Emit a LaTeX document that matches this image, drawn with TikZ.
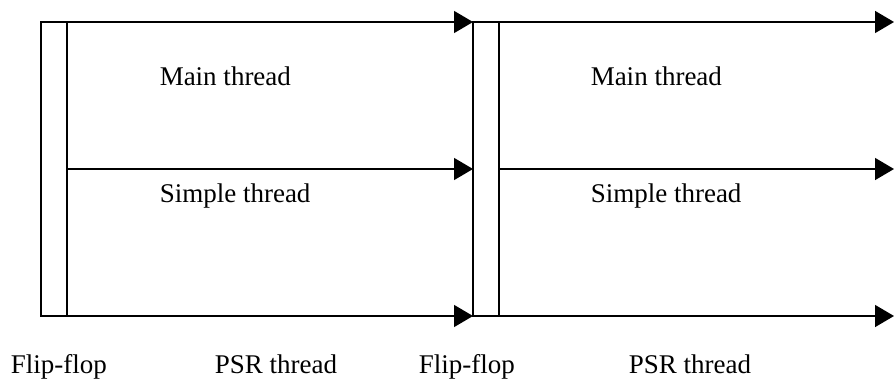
\documentclass[tikz,border=0pt]{standalone}
\usepackage{fontspec}
\setmainfont{Liberation Serif}
\usetikzlibrary{arrows.meta}
\begin{document}
\begin{tikzpicture}[x=1pt,y=1pt, line width=1.5pt,
  flow/.style={-{Triangle[length=19pt,width=22pt]}},
  bar/.style={draw, outer sep=0pt, inner sep=0pt, minimum width=26pt, minimum height=294pt, anchor=south west},
  lbl/.style={anchor=base west, inner sep=0pt, font=\fontsize{27}{32}\selectfont}]
\useasboundingbox (0,0) rectangle (894,381);
\node[bar] (ff1) at (41,65) {};
\node[bar] (ff2) at (473,65) {};
\coordinate (rx) at (894,0);
\draw[flow] (ff1.north west) -- (ff2.north west);
\draw[flow] (ff1.east) -- (ff2.west);
\draw[flow] (ff1.south east) -- (ff2.south west);
\draw[flow] (ff2.north west) -- (ff2.north west -| rx);
\draw[flow] (ff2.east) -- (ff2.east -| rx);
\draw[flow] (ff2.south east) -- (ff2.south east -| rx);
\node[lbl] (m1) at (159,295) {Main thread};
\node[lbl] (s1) at (159,179) {Simple thread};
\node[lbl] (m2) at (590,295) {Main thread};
\node[lbl] (s2) at (590,179) {Simple thread};
\node[lbl] (f1) at (10,8) {Flip-flop};
\node[lbl] (p1) at (214,8) {PSR thread};
\node[lbl] (f2) at (418,8) {Flip-flop};
\node[lbl] (p2) at (628,8) {PSR thread};
\end{tikzpicture}
\end{document}
